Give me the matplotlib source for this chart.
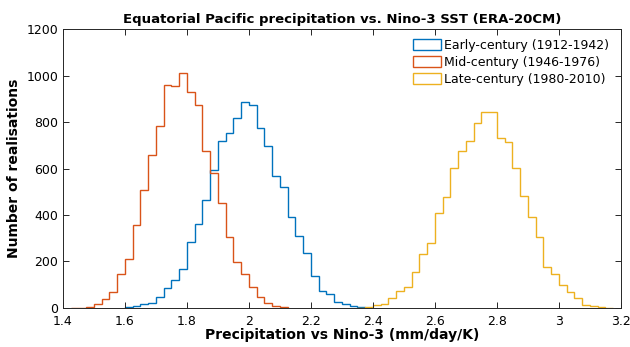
"""
Histogram of precipitation vs Nino-3 SST sensitivity, three ERA-20CM periods
"""

import numpy as np
import matplotlib
matplotlib.use("Agg")
import matplotlib.pyplot as plt
from matplotlib.patches import Patch

BIN_WIDTH = 0.025

# left edge of first bin + counts per bin
early_start = 1.6
early_counts = [3, 10, 19, 23, 46, 88, 120, 168, 282, 360, 465, 595, 717, 753, 819,
                887, 873, 776, 697, 569, 519, 393, 310, 235, 138, 75, 60, 26, 17, 9, 3, 1]

mid_start = 1.425
mid_counts = [1, 2, 6, 16, 37, 69, 148, 211, 356, 508, 657, 784, 958, 953, 1009,
              928, 873, 675, 582, 450, 307, 199, 146, 92, 46, 20, 9, 3]

late_start = 2.35
late_counts = [2, 4, 12, 17, 44, 75, 89, 153, 231, 278, 407, 476, 604, 675, 717, 797,
               843, 843, 733, 713, 602, 480, 390, 304, 175, 146, 99, 67, 43, 13, 9, 4, 2]

labels = ["Early-century (1912-1942)", "Mid-century (1946-1976)", "Late-century (1980-2010)"]
colors = ["#0072BD", "#D95319", "#EDB120"]

xticks = [1.4, 1.6, 1.8, 2.0, 2.2, 2.4, 2.6, 2.8, 3.0, 3.2]
xticklabels = ["1.4", "1.6", "1.8", "2", "2.2", "2.4", "2.6", "2.8", "3", "3.2"]
yticks = [0, 200, 400, 600, 800, 1000, 1200]


def edges(start, counts):
    return start + BIN_WIDTH * np.arange(len(counts) + 1)


fig = plt.figure(figsize=(6.3, 3.47), dpi=100)
ax = fig.add_axes([0.1, 0.1124, 0.8857, 0.804])

series = [(early_start, early_counts), (mid_start, mid_counts), (late_start, late_counts)]
for (start, counts), c in zip(series, colors):
    ax.stairs(counts, edges(start, counts), color=c, linewidth=1.0)

ax.set_xlim(1.4, 3.2)
ax.set_ylim(0, 1200)
ax.set_xticks(xticks)
ax.set_xticklabels(xticklabels)
ax.set_yticks(yticks)
ax.tick_params(direction="in", top=True, right=True, labelsize=9, length=4,
               width=0.7, colors="#262626", labelcolor="black")
ax.tick_params(axis="x", pad=5)
for s in ax.spines.values():
    s.set_color("#262626")
    s.set_linewidth(0.7)

ax.set_title("Equatorial Pacific precipitation vs. Nino-3 SST (ERA-20CM)",
             fontsize=9.5, fontweight="bold", pad=4)
ax.set_xlabel("Precipitation vs Nino-3 (mm/day/K)", fontsize=10, fontweight="bold", labelpad=0)
ax.set_ylabel("Number of realisations", fontsize=10, fontweight="bold", labelpad=4)

handles = [Patch(facecolor="none", edgecolor=c, linewidth=1.0) for c in colors]
ax.legend(handles, labels, loc="upper right", frameon=False, fontsize=9,
          handlelength=2.2, handleheight=1.0, handletextpad=0.3, labelspacing=0.3,
          borderaxespad=0.3, bbox_to_anchor=(0.995, 0.995))

plt.savefig("out.png", dpi=100)
plt.close()
